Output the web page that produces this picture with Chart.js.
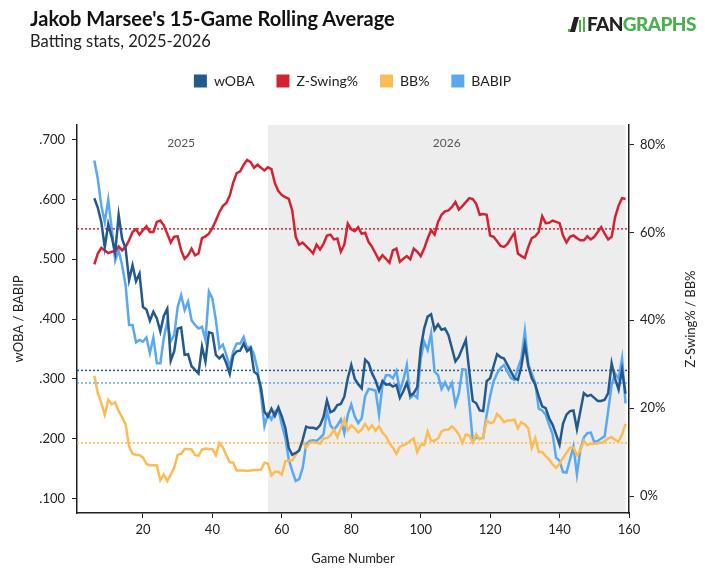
<!DOCTYPE html>
<html>
<head>
<meta charset="utf-8">
<title>Jakob Marsee 15-Game Rolling Average</title>
<script src="https://cdn.jsdelivr.net/npm/chart.js@4.4.1/dist/chart.umd.min.js"></script>
<style>
  body { margin: 0; background: #fff; font-family: Lato, sans-serif; }
  #wrap { position: relative; width: 705px; height: 582px; overflow: hidden; }
  #chart { position: absolute; left: 0; top: 0; }
  .title { position: absolute; left: 30px; top: 6px; font-size: 20px; font-weight: 700; color: #111; white-space: nowrap; }
  .subtitle { position: absolute; left: 30px; top: 31px; font-size: 16.5px; color: #222; white-space: nowrap; }
  .logo { position: absolute; left: 568px; top: 12px; height: 20px; white-space: nowrap; font-weight: 900; font-size: 19px; letter-spacing: -0.6px; }
  .logo .icon { display: inline-block; position: relative; width: 19px; height: 16px; vertical-align: -1px; }
  .logo .icon i { position: absolute; bottom: 0; background: #4caf50; }
  .logo .fan { color: #222; }
  .logo .graphs { color: #4caf50; }
</style>
</head>
<body>
<div id="wrap">
  <canvas id="chart" width="705" height="582"></canvas>
  <div class="title">Jakob Marsee's 15-Game Rolling Average</div>
  <div class="subtitle">Batting stats, 2025-2026</div>
  <div class="logo"><span class="icon"><i style="left:0;width:3px;height:3px"></i><i style="left:4px;width:5px;height:15px;background:#222;transform:skewX(-15deg)"></i><i style="left:11px;width:2px;height:12px"></i><i style="left:15px;width:2px;height:15px"></i></span><span class="fan">FAN</span><span class="graphs">GRAPHS</span></div>
</div>
<script>
// 15-game rolling values, game 6 through game 159
var firstGame = 6;
var seasonSplit = 56;   // first game of 2026

var wOBA = [
  .602,.586,.562,.520,.559,.537,.511,.574,.534,.518,
  .465,.490,.463,.476,.420,.416,.397,.412,.401,.379,
  .405,.417,.330,.346,.384,.386,.340,.341,.321,.315,
  .309,.354,.329,.378,.376,.340,.334,.340,.326,.308,
  .339,.346,.347,.359,.346,.351,.312,.307,.285,.245,
  .237,.250,.238,.252,.237,.218,.184,.173,.176,.180,
  .198,.220,.218,.218,.216,.222,.236,.264,.244,.247,
  .256,.258,.270,.301,.323,.300,.291,.284,.332,.326,
  .309,.297,.280,.296,.290,.291,.287,.290,.268,.279,
  .293,.272,.276,.286,.351,.384,.404,.408,.382,.391,
  .382,.384,.373,.351,.329,.337,.351,.365,.312,.263,
  .259,.247,.246,.296,.301,.321,.341,.336,.334,.323,
  .312,.301,.298,.321,.357,.321,.301,.290,.271,.254,
  .251,.234,.223,.207,.190,.225,.240,.246,.247,.216,
  .246,.276,.271,.273,.268,.263,.263,.265,.276,.326,
  .300,.282,.315,.275
];

var zSwing = [
  52.7,55.2,56.5,55.9,55.3,55.6,55.7,56.8,55.9,56.7,
  58.2,60.1,60.7,59.5,60.5,61.4,60.1,60.1,62.4,62.7,
  61.6,59.7,57.7,59.0,59.1,55.9,54.0,54.8,56.3,54.8,
  55.2,58.7,59.1,59.7,61.0,62.7,64.6,66.0,66.7,68.4,
  71.3,73.5,73.9,75.4,76.5,76.0,74.7,75.4,74.7,74.1,
  74.8,74.4,71.2,69.4,68.5,68.0,67.6,65.0,59.0,57.2,
  57.7,56.9,56.1,55.2,57.2,56.1,57.4,59.3,59.5,58.4,
  58.6,55.6,57.2,62.0,60.7,60.3,61.2,59.7,59.9,57.8,
  56.7,55.2,53.7,54.8,54.0,53.1,55.9,56.3,53.3,54.0,
  54.6,53.9,56.3,55.6,54.6,56.3,58.6,60.5,59.5,62.4,
  64.0,64.8,65.0,65.8,66.9,65.2,66.0,66.9,67.8,67.6,
  66.5,64.0,64.2,64.0,59.3,59.0,58.0,56.9,56.7,57.4,
  58.7,59.9,55.2,54.6,54.2,56.7,58.7,59.1,60.1,63.7,
  62.1,62.2,62.7,62.4,62.1,59.3,57.7,59.0,59.3,58.7,
  58.2,58.2,59.1,58.4,59.0,60.1,61.2,59.7,58.4,59.0,
  63.5,66.1,67.8,67.6
];

var bbPct = [
  27.4,23.4,21.2,18.5,21.9,20.9,21.3,19.3,17.9,16.3,
  11.3,9.6,9.4,9.3,8.8,7.3,7.0,7.0,7.0,3.6,
  4.9,3.4,4.9,6.4,9.4,9.6,10.7,10.7,10.6,9.3,
  9.2,10.6,10.8,10.7,10.7,9.3,12.1,11.1,9.3,7.7,
  7.6,5.8,5.8,5.8,5.7,5.8,5.9,5.9,6.0,7.6,
  7.4,4.7,5.5,5.5,4.9,7.9,8.1,8.1,9.3,10.6,
  12.5,11.0,12.1,12.3,12.1,11.9,13.1,13.2,13.8,15.1,
  13.4,15.5,17.5,15.0,16.1,15.4,14.5,15.1,16.4,15.1,
  16.1,14.9,15.9,14.4,13.6,12.0,11.0,9.6,11.2,11.6,
  11.9,12.6,13.1,10.0,11.7,11.6,14.7,12.6,12.6,13.1,
  14.7,15.1,15.1,15.9,15.1,14.0,12.1,14.0,13.8,12.2,
  14.1,12.9,13.4,17.2,16.6,16.8,18.7,17.9,16.8,17.2,
  17.2,17.4,15.4,16.8,16.3,15.4,11.0,13.2,10.0,10.0,
  9.1,8.3,7.2,6.4,7.3,8.7,9.8,11.0,11.1,9.3,
  10.4,12.6,11.6,11.9,11.9,12.0,12.1,12.5,13.1,13.4,
  12.8,12.4,14.0,16.4
];

var babip = [
  .665,.634,.590,.562,.600,.551,.498,.515,.490,.457,
  .390,.390,.361,.365,.362,.369,.343,.369,.326,.326,
  .368,.396,.363,.373,.420,.440,.415,.429,.398,.390,
  .384,.387,.365,.446,.434,.398,.351,.357,.340,.321,
  .346,.359,.359,.370,.351,.354,.340,.315,.273,.221,
  .241,.232,.245,.250,.223,.201,.165,.146,.129,.132,
  .151,.190,.196,.197,.196,.201,.207,.246,.222,.215,
  .222,.232,.209,.240,.257,.237,.226,.234,.271,.283,
  .282,.280,.240,.290,.306,.306,.301,.313,.280,.298,
  .323,.268,.273,.268,.334,.362,.348,.376,.312,.306,
  .283,.294,.282,.293,.257,.276,.316,.315,.259,.196,
  .202,.200,.201,.240,.271,.296,.309,.318,.323,.312,
  .301,.298,.318,.334,.380,.324,.309,.293,.250,.247,
  .240,.223,.207,.168,.163,.144,.143,.165,.187,.140,
  .182,.202,.209,.210,.194,.196,.200,.204,.246,.290,
  .309,.300,.334,.259
];

// dotted average lines
var avgWOBA = 0.314;
var avgBABIP = 0.293;
var avgZSwing = 60.8;
var avgBB = 12.1;

var xTicks = [20, 40, 60, 80, 100, 120, 140, 160];
var leftTicks = [0.1, 0.2, 0.3, 0.4, 0.5, 0.6, 0.7];
var rightTicks = [0, 20, 40, 60, 80];

var games = wOBA.map(function (v, i) { return firstGame + i; });
var lastGame = games[games.length - 1];

var colors = { woba: '#23598d', zswing: '#d52232', bb: '#fdbb55', babip: '#5aa8f1' };

function pts(arr) {
  return arr.map(function (v, i) { return { x: games[i], y: v }; });
}
function flat(v) {
  return [{ x: 1, y: v }, { x: 160, y: v }];
}

function series(label, arr, color, axis) {
  return {
    label: label, data: pts(arr), yAxisID: axis,
    borderColor: color, backgroundColor: color,
    borderWidth: 2.5, pointRadius: 0, tension: 0
  };
}
function avgLine(v, color, axis) {
  return {
    label: 'avg', data: flat(v), yAxisID: axis,
    borderColor: color, borderWidth: 1.5, borderDash: [2, 2],
    pointRadius: 0
  };
}

Chart.defaults.font.family = 'Lato';
Chart.defaults.color = '#222';

// grey band for the 2026 season + year labels
var seasonShade = {
  id: 'seasonShade',
  beforeDatasetsDraw: function (chart) {
    var ctx = chart.ctx, a = chart.chartArea, x = chart.scales.x;
    var x0 = x.getPixelForValue(seasonSplit);
    var x1 = x.getPixelForValue(lastGame);
    ctx.save();
    ctx.fillStyle = '#ededed';
    ctx.fillRect(x0, a.top, x1 - x0, a.bottom - a.top - 1);
    ctx.fillStyle = '#555';
    ctx.font = '12px Lato';
    ctx.textAlign = 'center';
    ctx.textBaseline = 'middle';
    ctx.fillText('2025', x.getPixelForValue((firstGame + seasonSplit) / 2), a.top + 18);
    ctx.fillText('2026', x.getPixelForValue((seasonSplit + lastGame) / 2), a.top + 18);
    ctx.restore();
  },
  afterDraw: function (chart) {
    // right axis title reads bottom to top, like the left one
    var ctx = chart.ctx, a = chart.chartArea, y1 = chart.scales.y1;
    ctx.save();
    ctx.translate(y1.right - 14, (a.top + a.bottom) / 2);
    ctx.rotate(-Math.PI / 2);
    ctx.fillStyle = '#222';
    ctx.font = '13px Lato';
    ctx.textAlign = 'center';
    ctx.textBaseline = 'middle';
    ctx.fillText('Z-Swing% / BB%', 0, 0);
    ctx.restore();
  }
};

// extra room under the legend
var legendGap = {
  id: 'legendGap',
  beforeInit: function (chart) {
    var fit = chart.legend.fit;
    chart.legend.fit = function () {
      fit.call(this);
      this.height += 27;
    };
  }
};

var tickGrid = { drawOnChartArea: false, drawTicks: true, tickLength: 5, color: '#222', lineWidth: 1 };
var axisBorder = { display: true, color: '#222', width: 1.5 };

new Chart(document.getElementById('chart'), {
  type: 'line',
  data: {
    datasets: [
      series('wOBA', wOBA, colors.woba, 'y'),
      series('Z-Swing%', zSwing, colors.zswing, 'y1'),
      series('BB%', bbPct, colors.bb, 'y1'),
      series('BABIP', babip, colors.babip, 'y'),
      avgLine(avgWOBA, colors.woba, 'y'),
      avgLine(avgZSwing, colors.zswing, 'y1'),
      avgLine(avgBB, colors.bb, 'y1'),
      avgLine(avgBABIP, colors.babip, 'y')
    ]
  },
  options: {
    responsive: false,
    animation: false,
    layout: { padding: { top: 52, left: 0, right: 0, bottom: 0 } },
    plugins: {
      legend: {
        position: 'top',
        labels: {
          boxWidth: 13, boxHeight: 13, padding: 22,
          color: '#222', font: { size: 14 },
          generateLabels: function (chart) {
            return Chart.defaults.plugins.legend.labels.generateLabels(chart)
              .filter(function (l) { return l.datasetIndex < 4; })
              .map(function (l) { l.lineWidth = 0; l.strokeStyle = 'rgba(0,0,0,0)'; return l; });
          }
        }
      },
      tooltip: { enabled: false }
    },
    scales: {
      x: {
        type: 'linear', min: 1, max: 160,
        grid: tickGrid, border: axisBorder,
        ticks: { font: { size: 13 }, color: '#222', padding: 4 },
        afterBuildTicks: function (s) { s.ticks = xTicks.map(function (v) { return { value: v }; }); },
        afterFit: function (s) { s.height = 69; },
        title: { display: true, text: 'Game Number', font: { size: 13 }, color: '#222', padding: { top: 0, bottom: 15 } }
      },
      y: {
        position: 'left', min: 0.0755, max: 0.7245,
        grid: tickGrid, border: axisBorder,
        ticks: {
          font: { size: 13 }, color: '#222', padding: 7,
          callback: function (v) { return v.toFixed(3).replace(/^0/, ''); }
        },
        afterBuildTicks: function (s) { s.ticks = leftTicks.map(function (v) { return { value: v }; }); },
        afterFit: function (s) { s.width = 77; },
        title: { display: true, text: 'wOBA / BABIP', font: { size: 13 }, color: '#222', padding: { top: 11, bottom: 4 } }
      },
      y1: {
        position: 'right', min: -3.86, max: 84.44,
        grid: tickGrid, border: axisBorder,
        ticks: {
          font: { size: 13 }, color: '#222', padding: 6,
          callback: function (v) { return v + '%'; }
        },
        afterBuildTicks: function (s) { s.ticks = rightTicks.map(function (v) { return { value: v }; }); },
        afterFit: function (s) { s.width = 76; }
      }
    }
  },
  plugins: [seasonShade, legendGap]
});
</script>
</body>
</html>
